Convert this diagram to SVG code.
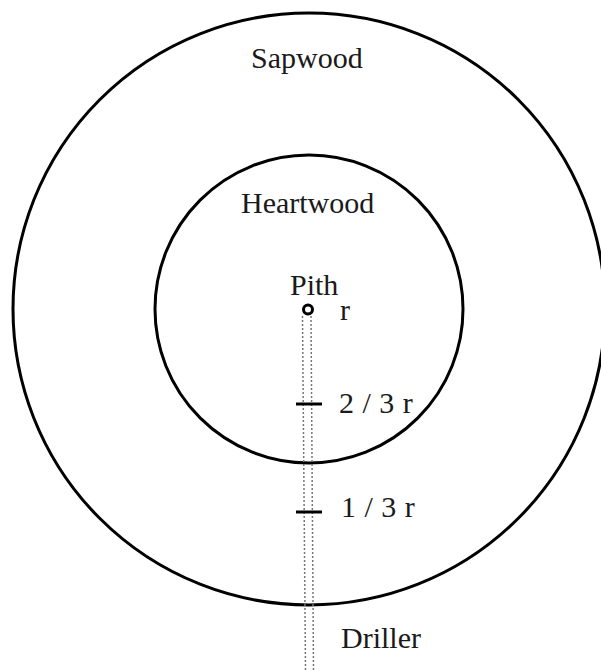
<svg xmlns="http://www.w3.org/2000/svg" width="601" height="670" viewBox="0 0 601 670">
<style>
.ring{fill:none;stroke:#000;stroke-width:3}
.lbl{font-family:"Liberation Serif","Times New Roman",serif;font-size:30px;fill:#1a1a1a}
.dot{stroke:#777;stroke-width:1.5;stroke-dasharray:2 2;fill:none}
.tick{stroke:#000;stroke-width:3}
</style>
<rect width="601" height="670" fill="#fff"/>
<g id="sapwood"><circle class="ring" cx="309" cy="309" r="296"/><text class="lbl" x="251" y="68">Sapwood</text></g>
<g id="heartwood"><circle class="ring" cx="309" cy="309" r="154"/><text class="lbl" x="241" y="213">Heartwood</text></g>
<g id="connectors">
<line class="dot" x1="302.5" y1="316" x2="305.5" y2="670"/>
<line class="dot" x1="311" y1="316" x2="313.5" y2="670"/>
</g>
<g id="pith"><circle cx="308" cy="309.5" r="4.5" fill="none" stroke="#000" stroke-width="3"/><text class="lbl" x="290" y="295">Pith</text><text class="lbl" x="340" y="320">r</text></g>
<g id="mark23"><line class="tick" x1="296" y1="404" x2="322" y2="404"/><text class="lbl" x="339" y="413" word-spacing="1">2 / 3 r</text></g>
<g id="mark13"><line class="tick" x1="296" y1="512" x2="322" y2="512"/><text class="lbl" x="341" y="517" word-spacing="1">1 / 3 r</text></g>
<g id="driller"><text class="lbl" x="341" y="648">Driller</text></g>
</svg>
